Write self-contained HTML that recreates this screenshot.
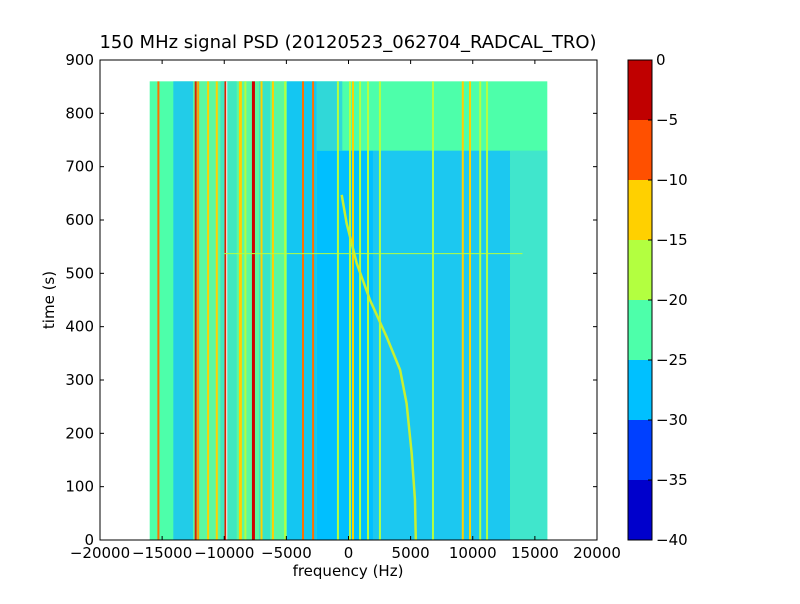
<!DOCTYPE html>
<html><head><meta charset="utf-8"><style>
body{margin:0;background:#fff;font-family:"DejaVu Sans","Liberation Sans",sans-serif}
svg text{font-family:"DejaVu Sans","Liberation Sans",sans-serif}
</style></head><body>
<svg id="chart" width="800" height="600" viewBox="0 0 800 600" xmlns="http://www.w3.org/2000/svg">
<rect width="800" height="600" fill="#fff"/>
<text x="348" y="48" font-size="18" text-anchor="middle">150 MHz signal PSD (20120523_062704_RADCAL_TRO)</text>
<g id="plot"></g>
<g id="axes"></g>
<text x="348" y="576" font-size="15" text-anchor="middle">frequency (Hz)</text>
<text transform="translate(54,300) rotate(-90)" font-size="15" text-anchor="middle">time (s)</text>
<g id="cbar"></g>
</svg>
<script>
// ---- data ----
const xTicks=[-20000,-15000,-10000,-5000,0,5000,10000,15000,20000];
const yTicks=[0,100,200,300,400,500,600,700,800,900];
const cLevels=[-40,-35,-30,-25,-20,-15,-10,-5,0];
const cColors=["#0000cc","#0040ff","#00c0ff","#4dffaa","#b3ff40","#ffd000","#ff5000","#c00000"];
// background regions: [f0,f1,t0,t1,color]
const regF0=[-16000,-14100,-12500,-10300,-7200,-4950,-2550,1970,13000,-2550];
const regF1=[16000,-12500,-4950,-9000,-6300,-2550,1970,13000,16000,-500];
const regT0=[0,0,0,0,0,0,0,0,0,730];
const regT1=[860,860,860,860,860,860,730,730,730,860];
const regC=["#4dffaa","#22cce8","#5cf8a0","#40e8c0","#38e4c8","#14c6f2","#00bfff","#1cc8f0","#40e6cc","#30d8d8"];
// vertical tones
const lineF=[-15300,-12300,-12100,-11300,-10600,-9900,-9800,-8700,-8300,-7650,-7000,-6080,-5100,-3660,-2850,-850,120,360,930,1570,2530,6800,9200,9780,10600,11150];
const lineC=["#ff7000","#e02000","#ffa000","#ffd000","#ffd000","#e02000","#ffffff","#ffd000","#b3ff40","#d00000","#ffd000","#ffd000","#b3ff40","#ff7000","#ff7000","#b3ff40","#b3ff40","#ffd000","#b3ff40","#b3ff40","#b3ff40","#b3ff40","#ffd000","#ffd000","#b3ff40","#b3ff40"];
const lineW=[2,2,2,2,2,2,1,3,2,3,2,2,2,2,2,2,2,2,2,2,2,2,2,2,2,2];
// chirp
const chirpT=[647,594,519,450,381,319,256,162,75,0];
const chirpF=[-550,-150,660,1730,3070,4150,4680,5090,5350,5420];
// ---- axes ----
const L=100,R=597,T=60,B=540;
const X=f=>L+(f+20000)/40000*(R-L);
const Y=t=>B-t/900*(B-T);
const NS="http://www.w3.org/2000/svg";
function mk(tag,attrs,parent){const e=document.createElementNS(NS,tag);for(const k in attrs)e.setAttribute(k,attrs[k]);parent.appendChild(e);return e;}
const plot=document.getElementById('plot');
for(let i=0;i<regF0.length;i++){
 const r=mk('rect',{x:X(regF0[i]),y:Y(regT1[i]),width:X(regF1[i])-X(regF0[i]),height:Y(regT0[i])-Y(regT1[i]),fill:regC[i]},plot);
 
 
}
for(let i=0;i<lineF.length;i++){
 const l=mk('line',{x1:X(lineF[i]),x2:X(lineF[i]),y1:Y(860),y2:Y(0),stroke:lineC[i],'stroke-width':lineW[i]},plot);
 
 
}
{
 const h=mk('line',{x1:X(-10000),x2:X(14000),y1:Y(537),y2:Y(537),stroke:'#b3ff40','stroke-width':1},plot);
 
 
}
{
 const p=chirpT.map((t,i)=>(i?'L':'M')+X(chirpF[i]).toFixed(1)+','+Y(t).toFixed(1)).join('');
 const c=mk('path',{d:p,fill:'none',stroke:'#c8f030','stroke-width':2.5},plot);
 
 
}
const ax=document.getElementById('axes');
const fr=mk('rect',{x:L,y:T,width:R-L,height:B-T,fill:'none',stroke:'#000','stroke-width':1},ax);


xTicks.forEach(v=>{
 const x=X(v);
 mk('line',{x1:x,x2:x,y1:B,y2:B-4,stroke:'#000'},ax);
 mk('line',{x1:x,x2:x,y1:T,y2:T+4,stroke:'#000'},ax);
 const t=mk('text',{x:x,y:B+18,'font-size':15,'text-anchor':'middle'},ax);
 t.textContent=v<0?'\u2212'+(-v):String(v);
 
 
});
yTicks.forEach(v=>{
 const y=Y(v);
 mk('line',{x1:L,x2:L+4,y1:y,y2:y,stroke:'#000'},ax);
 mk('line',{x1:R,x2:R-4,y1:y,y2:y,stroke:'#000'},ax);
 const t=mk('text',{x:L-6,y:y+5,'font-size':15,'text-anchor':'end'},ax);
 t.textContent=String(v);
 
 
});
// colorbar
const cb=document.getElementById('cbar');
const CL=628,CR=652;
const CY=v=>B-(v-cLevels[0])/(cLevels[cLevels.length-1]-cLevels[0])*(B-T);
for(let i=0;i<cColors.length;i++){
 const r=mk('rect',{x:CL,y:CY(cLevels[i+1]),width:CR-CL,height:CY(cLevels[i])-CY(cLevels[i+1]),fill:cColors[i]},cb);
 
 
}
const cf=mk('rect',{x:CL,y:T,width:CR-CL,height:B-T,fill:'none',stroke:'#000'},cb);


cLevels.forEach(v=>{
 const y=CY(v);
 mk('line',{x1:CR,x2:CR-4,y1:y,y2:y,stroke:'#000'},cb);
 const t=mk('text',{x:CR+4,y:y+5,'font-size':15},cb);
 t.textContent=v<0?'\u2212'+(-v):String(v);
 
 
});
</script>
</body></html>
